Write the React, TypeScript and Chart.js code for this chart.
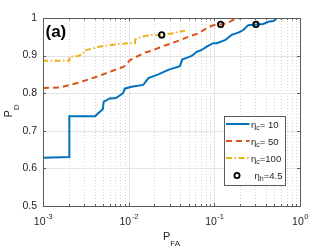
import React, { useEffect, useRef } from "react";
import { Chart, registerables } from "chart.js";

Chart.register(...registerables);

// ---- data ----
const pfa10 = [0.001, 0.001, 0.00203, 0.00203, 0.00405, 0.0050, 0.0051, 0.0060, 0.0071, 0.0086, 0.0090, 0.0108, 0.0148, 0.0170, 0.0222, 0.0290, 0.0397, 0.0423, 0.0476, 0.0544, 0.0622, 0.0712, 0.0814, 0.0973, 0.1066, 0.1332, 0.1594, 0.1905, 0.218, 0.249, 0.306, 0.373, 0.427, 0.488, 0.534];
const pd10 = [0.606, 0.628, 0.630, 0.739, 0.739, 0.758, 0.777, 0.786, 0.787, 0.800, 0.812, 0.817, 0.822, 0.840, 0.850, 0.862, 0.872, 0.890, 0.894, 0.899, 0.910, 0.915, 0.924, 0.933, 0.933, 0.941, 0.955, 0.961, 0.968, 0.981, 0.983, 0.984, 0.990, 0.992, 0.999];

const pfa50 = [0.001, 0.00158, 0.00207, 0.0027, 0.00354, 0.00463, 0.00605, 0.0079, 0.0087, 0.0105, 0.0155, 0.0186, 0.0243, 0.0318, 0.0397, 0.0520, 0.0650, 0.0814, 0.0973, 0.1186, 0.1393, 0.174, 0.208];
const pd50 = [0.814, 0.815, 0.822, 0.829, 0.838, 0.847, 0.857, 0.867, 0.870, 0.889, 0.908, 0.913, 0.924, 0.933, 0.941, 0.952, 0.959, 0.973, 0.981, 0.983, 0.986, 0.997, 1.0];

const pfa100 = [0.001, 0.001, 0.00203, 0.00203, 0.00258, 0.00295, 0.0030, 0.00463, 0.00724, 0.01038, 0.01186, 0.0119, 0.0142, 0.0186, 0.0243, 0.0318, 0.0397, 0.0455];
const pd100 = [0.817, 0.886, 0.886, 0.897, 0.899, 0.906, 0.913, 0.924, 0.930, 0.933, 0.933, 0.943, 0.950, 0.955, 0.955, 0.959, 0.964, 0.966];

const markerPfa = [0.0243, 0.1186, 0.306];
const markerPd = [0.955, 0.983, 0.983];

const yTicks = [0.5, 0.6, 0.7, 0.8, 0.9, 1.0];
const xDecades = [-3, -2, -1, 0];
const legendLabels = [
  { base: "\u03b7", sub: "c", rest: "= 10" },
  { base: "\u03b7", sub: "c", rest: "= 50" },
  { base: "\u03b7", sub: "c", rest: "=100" },
  { base: "\u03b7", sub: "h", rest: "=4.5" },
];

const BLUE = "#0072BD";
const ORANGE = "#D95319";
const YELLOW = "#EDB120";
const TXT = "#262626";
const AXC = "#5c5c5c";
const FONT = "'Liberation Sans', Arial, Helvetica, sans-serif";
const DASH50 = [6, 4];
const DASH100 = [6, 2.5, 1.5, 2.5];

const zip = (xs: number[], ys: number[]) => xs.map((v, i) => ({ x: v, y: ys[i] }));

const decorPlugin = {
  id: "decor",
  beforeDatasetsDraw(chart: any) {
    const { ctx, chartArea, scales } = chart;
    const { left, right, top, bottom } = chartArea;
    const xs = scales.x;
    const ys = scales.y;
    ctx.save();
    ctx.lineWidth = 1;
    // minor x grid (dotted)
    ctx.strokeStyle = "#d4d4d4";
    ctx.setLineDash([1, 2]);
    for (const d of [-3, -2, -1]) {
      for (let k = 2; k <= 9; k++) {
        const px = Math.round(xs.getPixelForValue(k * Math.pow(10, d))) + 0.5;
        ctx.beginPath();
        ctx.moveTo(px, top);
        ctx.lineTo(px, bottom);
        ctx.stroke();
      }
    }
    // major grid
    ctx.setLineDash([]);
    ctx.strokeStyle = "#e4e4e4";
    for (const d of [-2, -1]) {
      const px = Math.round(xs.getPixelForValue(Math.pow(10, d))) + 0.5;
      ctx.beginPath();
      ctx.moveTo(px, top);
      ctx.lineTo(px, bottom);
      ctx.stroke();
    }
    for (const v of yTicks.slice(1, -1)) {
      const py = Math.round(ys.getPixelForValue(v)) + 0.5;
      ctx.beginPath();
      ctx.moveTo(left, py);
      ctx.lineTo(right, py);
      ctx.stroke();
    }
    ctx.restore();
  },
  afterDatasetsDraw(chart: any) {
    const { ctx, chartArea, scales } = chart;
    const { left, right, top, bottom } = chartArea;
    const xs = scales.x;
    const ys = scales.y;
    ctx.save();
    // box
    ctx.strokeStyle = AXC;
    ctx.lineWidth = 1;
    ctx.setLineDash([]);
    ctx.strokeRect(left + 0.5, top + 0.5, right - left, bottom - top);
    // ticks
    ctx.beginPath();
    for (const v of yTicks.slice(1, -1)) {
      const py = Math.round(ys.getPixelForValue(v)) + 0.5;
      ctx.moveTo(left, py);
      ctx.lineTo(left + 3, py);
      ctx.moveTo(right, py);
      ctx.lineTo(right - 3, py);
    }
    for (const d of [-3, -2, -1]) {
      for (let k = 1; k <= 9; k++) {
        if (d === -3 && k === 1) continue;
        const px = Math.round(xs.getPixelForValue(k * Math.pow(10, d))) + 0.5;
        const len = k === 1 ? 3 : 2;
        ctx.moveTo(px, bottom);
        ctx.lineTo(px, bottom - len);
        ctx.moveTo(px, top);
        ctx.lineTo(px, top + len);
      }
    }
    ctx.stroke();

    // x tick labels 10^n
    ctx.fillStyle = TXT;
    ctx.textBaseline = "alphabetic";
    ctx.textAlign = "left";
    for (const d of xDecades) {
      const px = xs.getPixelForValue(Math.pow(10, d));
      ctx.font = `10.5px ${FONT}`;
      const w1 = ctx.measureText("10").width;
      ctx.font = `7.5px ${FONT}`;
      const e = String(d);
      const w2 = ctx.measureText(e).width;
      const x0 = px - (w1 + w2) / 2;
      ctx.font = `10.5px ${FONT}`;
      ctx.fillText("10", x0, 224.5);
      ctx.font = `7.5px ${FONT}`;
      ctx.fillText(e, x0 + w1 + 0.5, 218.5);
    }
    // x axis label P_FA
    ctx.font = `11px ${FONT}`;
    const wP = ctx.measureText("P").width;
    ctx.font = `8px ${FONT}`;
    const wFA = ctx.measureText("FA").width;
    const cx = (left + right) / 2;
    const lx = cx - (wP + wFA) / 2;
    ctx.font = `11px ${FONT}`;
    ctx.fillText("P", lx, 240);
    ctx.font = `8px ${FONT}`;
    ctx.fillText("FA", lx + wP, 245.5);

    // y axis label P_D (rotated)
    ctx.save();
    ctx.translate(11.5, (top + bottom) / 2 - 1);
    ctx.rotate(-Math.PI / 2);
    ctx.font = `11px ${FONT}`;
    const wP2 = ctx.measureText("P").width;
    ctx.font = `8px ${FONT}`;
    const wD = ctx.measureText("D").width;
    const ly = -(wP2 + wD) / 2;
    ctx.font = `11px ${FONT}`;
    ctx.fillText("P", ly, 0);
    ctx.font = `8px ${FONT}`;
    ctx.fillText("D", ly + wP2, 7.5);
    ctx.restore();

    // (a)
    ctx.font = `bold 17px ${FONT}`;
    ctx.fillStyle = "#000";
    ctx.fillText("(a)", 45.5, 37);

    // legend
    const bx = 224, by = 116, bw = 61, bh = 69;
    ctx.fillStyle = "#fff";
    ctx.fillRect(bx, by, bw, bh);
    ctx.strokeStyle = AXC;
    ctx.lineWidth = 1;
    ctx.strokeRect(bx + 0.5, by + 0.5, bw, bh);
    const rowY = [124, 141, 158, 175.5];
    const styles = [
      { color: BLUE, dash: [] as number[] },
      { color: ORANGE, dash: DASH50 },
      { color: YELLOW, dash: DASH100 },
    ];
    for (let i = 0; i < 3; i++) {
      ctx.strokeStyle = styles[i].color;
      ctx.lineWidth = 2;
      ctx.setLineDash(styles[i].dash);
      ctx.beginPath();
      ctx.moveTo(226, rowY[i]);
      ctx.lineTo(249.5, rowY[i]);
      ctx.stroke();
    }
    ctx.setLineDash([]);
    ctx.strokeStyle = "#000";
    ctx.lineWidth = 1.8;
    ctx.beginPath();
    ctx.arc(237, rowY[3], 2.6, 0, Math.PI * 2);
    ctx.stroke();
    ctx.fillStyle = TXT;
    legendLabels.forEach((lab, i) => {
      let tx = i === 3 ? 254.5 : 251;
      const base = rowY[i] + 3.5;
      ctx.font = `9.5px ${FONT}`;
      ctx.fillText(lab.base, tx, base);
      tx += ctx.measureText(lab.base).width;
      ctx.font = `7px ${FONT}`;
      ctx.fillText(lab.sub, tx, base + 2);
      tx += ctx.measureText(lab.sub).width;
      ctx.font = `9.5px ${FONT}`;
      ctx.fillText(lab.rest, tx, base);
    });
    ctx.restore();
  },
};

export default function App() {
  const ref = useRef<HTMLCanvasElement>(null);
  useEffect(() => {
    if (!ref.current) return;
    const chart = new Chart(ref.current, {
      type: "line",
      data: {
        datasets: [
          {
            label: "\u03b7h=4.5",
            data: zip(markerPfa, markerPd),
            showLine: false,
            pointRadius: 2.7,
            pointBorderWidth: 1.8,
            pointBorderColor: "#000",
            pointBackgroundColor: "rgba(0,0,0,0)",
            borderColor: "#000",
          } as any,
          {
            label: "\u03b7c=100",
            data: zip(pfa100, pd100),
            borderColor: YELLOW,
            borderWidth: 2,
            borderDash: DASH100,
            pointRadius: 0,
            tension: 0,
            fill: false,
          },
          {
            label: "\u03b7c= 50",
            data: zip(pfa50, pd50),
            borderColor: ORANGE,
            borderWidth: 2,
            borderDash: DASH50,
            pointRadius: 0,
            tension: 0,
            fill: false,
          },
          {
            label: "\u03b7c= 10",
            data: zip(pfa10, pd10),
            borderColor: BLUE,
            borderWidth: 2,
            pointRadius: 0,
            tension: 0,
            fill: false,
          },
        ],
      },
      options: {
        responsive: false,
        animation: false,
        parsing: false as any,
        layout: { padding: { top: 18, right: 32, left: 0, bottom: 0 } },
        plugins: { legend: { display: false }, tooltip: { enabled: false } },
        scales: {
          x: {
            type: "logarithmic",
            min: 0.001,
            max: 1,
            grid: { display: false, drawTicks: false },
            border: { display: false },
            ticks: { display: false },
            afterFit: (s: any) => {
              s.height = 43;
            },
          },
          y: {
            type: "linear",
            min: 0.5,
            max: 1,
            grid: { display: false, drawTicks: false },
            border: { display: false },
            afterBuildTicks: (s: any) => {
              s.ticks = yTicks.map((v) => ({ value: v }));
            },
            ticks: {
              padding: 6,
              color: TXT,
              font: { family: FONT, size: 10.5 },
              callback: (v: any) => String(Number(Number(v).toFixed(1))),
            },
            afterFit: (s: any) => {
              s.width = 43;
            },
          },
        },
      },
      plugins: [decorPlugin],
    });
    return () => chart.destroy();
  }, []);
  return (
    <div style={{ position: "absolute", left: 0, top: 0, width: 332, height: 249, background: "#fff" }}>
      <canvas ref={ref} width={332} height={249} />
    </div>
  );
}
